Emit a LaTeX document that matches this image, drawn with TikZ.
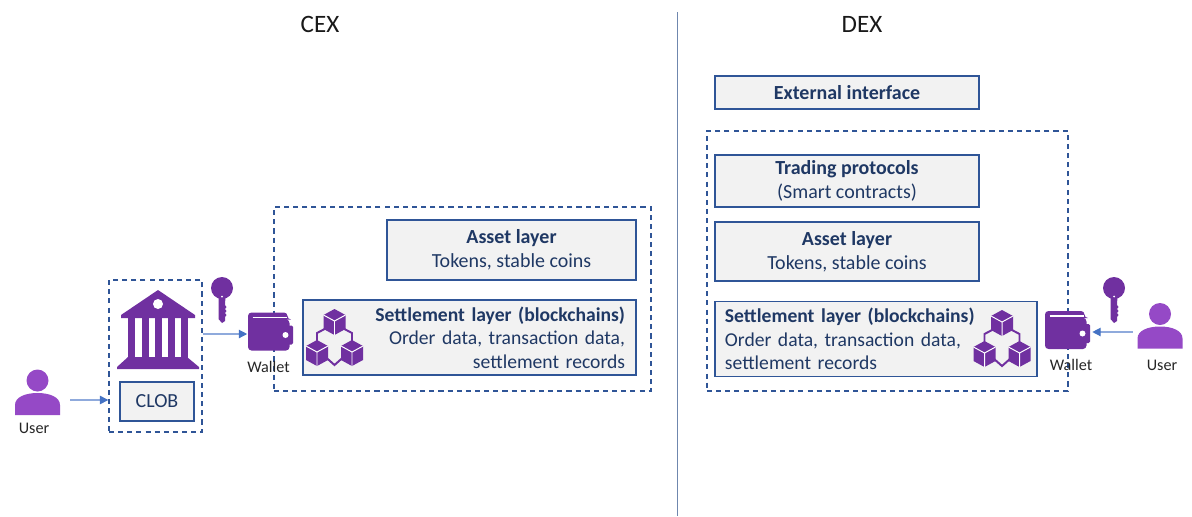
\documentclass[tikz,border=0pt]{standalone}
\usepackage{fontspec}
\setmainfont{Carlito}
\usetikzlibrary{arrows.meta}
\definecolor{navytext}{HTML}{1F3864}
\definecolor{boxline}{HTML}{2F5597}
\definecolor{dividerline}{HTML}{6F87AE}
\definecolor{boxfill}{HTML}{F2F2F2}
\definecolor{flowline}{HTML}{8FAADC}
\definecolor{flowtip}{HTML}{4472C4}
\definecolor{darkviolet}{HTML}{7030A0}
\definecolor{lightviolet}{HTML}{9549C6}
\newcommand{\hexcube}[2]{
  \fill [darkviolet, shift={(#1,#2)}] (0,-13) -- (11,-7) -- (11,7) -- (0,13) -- (-11,7) -- (-11,-7) -- cycle;
  \draw [white, line width=0.7pt, shift={(#1,#2)}] (-11,-7) -- (0,-1) -- (11,-7) (0,-1) -- (0,13);
}
\tikzset{
  layerbox/.style={draw=boxline, fill=boxfill, line width=1pt, inner sep=0pt, align=center, text=navytext,
    font=\fontsize{14.2}{17.4}\selectfont},
  settlebox/.style={layerbox, minimum height=1.875cm, font=\fontsize{13.95}{16.8}\selectfont},
  dashbox/.style={draw=boxline, line width=0.95pt, dash pattern=on 3.6pt off 2.9pt, inner sep=0pt},
  iconspot/.style={inner sep=0pt},
  smalltext/.style={inner sep=0pt, font=\fontsize{11.5}{13}\selectfont, text=black!85},
  headtext/.style={inner sep=0pt, font=\fontsize{17.8}{20}\selectfont, text=black!90},
  flow/.style={draw=flowline, line width=0.9pt, -{Triangle[length=6pt, width=6pt, color=flowtip]}},
  usericon/.pic={
    \fill [lightviolet] (0,-19.5) circle (11);
    \fill [lightviolet] (-22.5,15) -- (-22.5,5) .. controls (-22.5,-3) and (-12,-7) .. (0,-7)
      .. controls (12,-7) and (22.5,-3) .. (22.5,5) -- (22.5,15) -- cycle;
  },
  keyicon/.pic={
    \fill [darkviolet] (0,-12) circle (11);
    \fill [darkviolet] (-3.5,-4) -- (-3.5,19) -- (0,23) -- (3,21) -- (3,17) -- (4.5,15) -- (3,13) -- (4.5,11)
      -- (3,9) -- (4.5,7) -- (3,5) -- (3.5,-4) -- cycle;
    \fill [white] (0,-3.5) circle (1);
  },
  walleticon/.pic={
    \fill [darkviolet, rounded corners=2.5pt] (-22.5,-19) -- (17,-19) -- (17,-12) -- (19,-12) -- (19,19) -- (-22.5,19) -- cycle;
    \fill [darkviolet, rounded corners=1pt] (15,-6) rectangle (22.5,13);
    \draw [white, line width=0.8pt] (-18,-14) -- (16,-14);
    \fill [white] (15,3.5) circle (3);
  },
  bankicon/.pic={
    \fill [darkviolet] (0,-40) -- (37,-15) -- (37,-12) -- (-37,-12) -- (-37,-15) -- cycle;
    \fill [white] (0,-26) circle (5);
    \foreach \colx in {-30,-16,-3,10,23}
      \fill [darkviolet] (\colx,-12) rectangle ++(6.5,40);
    \fill [darkviolet] (-30,27) -- (29,27) -- (41,37) -- (41,39) -- (-41,39) -- (-41,37) -- cycle;
  },
  blockicon/.pic={
    \draw [darkviolet, line width=1.4pt] (-8,-10) -- (-17.5,-5) -- (-17.5,5)
      (8,-10) -- (17.5,-5) -- (17.5,5)
      (-9,19) -- (0,27) -- (9,19);
    \hexcube{0}{-16}
    \hexcube{-17.5}{15}
    \hexcube{17.5}{15}
  },
}
\begin{document}
\begin{tikzpicture}[x=0.025cm, y=-0.025cm]
  \useasboundingbox (0,0) rectangle (1192,516);
  % titles and the divider
  \node (cex_title) [headtext] at (320,24) {CEX};
  \node (dex_title) [headtext] at (862,24) {DEX};
  \coordinate (div_top) at (677.5,12);
  \coordinate (div_bot) at (677.5,516);
  \draw [dividerline, line width=0.7pt] (div_top) -- (div_bot);

  % left side
  \node (bank_box) [dashbox, minimum width=2.325cm, minimum height=3.8cm] at (155.5,356) {};
  \node (cex_box) [dashbox, minimum width=9.425cm, minimum height=4.6cm] at (462.5,299) {};
  \node (clob) [layerbox, minimum width=1.85cm, minimum height=0.975cm] at (157,401.5) {CLOB};
  \node (asset_cex) [layerbox, minimum width=6.225cm, minimum height=1.5cm] at (511.5,250)
    {\textbf{Asset layer}\\Tokens, stable coins};
  \node (settle_cex) [settlebox, inner xsep=0.275cm, text width=7.775cm, align=right] at (469.5,337.5)
    {\textbf{Settlement layer (blockchains)}\\Order data, transaction data,\\settlement records};
  \node (user_cex) [iconspot, minimum width=1.65cm] at (37,400) {};
  \node (wallet_cex) [iconspot, minimum width=1.15cm] at (270.5,334) {};
  \pic at (37.5,400) {usericon};
  \pic at (222,300) {keyicon};
  \pic at (158,330) {bankicon};
  \pic at (270.5,331.5) {walleticon};
  \pic at (334.5,338) {blockicon};
  \node (user_cex_label) [smalltext] at (34,428) {User};
  \node (wallet_cex_label) [smalltext] at (268.5,367) {Wallet};
  \draw [flow] (user_cex) -- (bank_box.west |- user_cex);
  \draw [flow] (bank_box.east |- wallet_cex) -- (wallet_cex);

  % right side
  \node (dex_box) [dashbox, minimum width=9.025cm, minimum height=6.5cm] at (887.5,261) {};
  \node (interface) [layerbox, minimum width=6.6cm, minimum height=0.825cm] at (847,92.5) {\textbf{External interface}};
  \node (trading) [layerbox, minimum width=6.6cm, minimum height=1.3cm] at (847,181)
    {\textbf{Trading protocols}\\(Smart contracts)};
  \node (asset_dex) [layerbox, minimum width=6.6cm, minimum height=1.475cm] at (847,251.5)
    {\textbf{Asset layer}\\Tokens, stable coins};
  \node (settle_dex) [settlebox, inner xsep=0.25cm, text width=7.55cm, align=left] at (876,339)
    {\textbf{Settlement layer (blockchains)}\\Order data, transaction data,\\settlement records};
  \node (user_dex) [iconspot, minimum width=1.35cm] at (1160,332) {};
  \node (wallet_dex) [iconspot, minimum width=1.225cm] at (1067.5,332) {};
  \pic at (1160,333.5) {usericon};
  \pic at (1114,300) {keyicon};
  \pic at (1067.5,330) {walleticon};
  \pic at (1002,339) {blockicon};
  \node (user_dex_label) [smalltext] at (1162,365) {User};
  \node (wallet_dex_label) [smalltext] at (1071,365) {Wallet};
  \draw [flow] (user_dex) -- (wallet_dex);
\end{tikzpicture}
\end{document}
